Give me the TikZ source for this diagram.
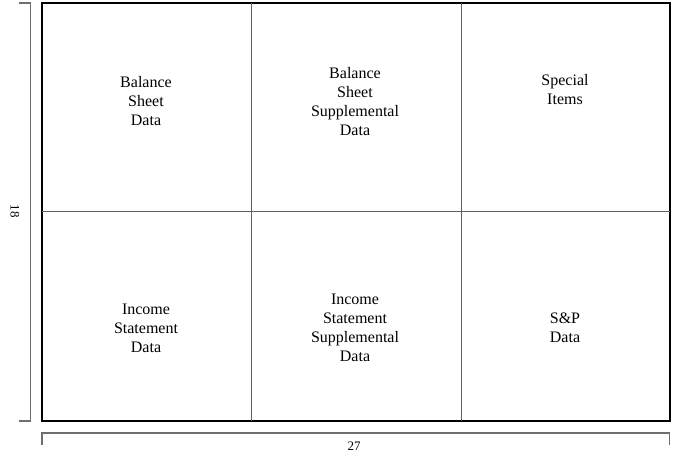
\documentclass[tikz,border=0pt]{standalone}
\usepackage{fontspec}
\setmainfont{Liberation Serif}
\definecolor{gridgray}{RGB}{95,95,95}
\definecolor{brgray}{RGB}{110,110,110}
\begin{document}
\begin{tikzpicture}[x=1pt,y=-1pt,
  outer/.style={draw=black,line width=1.1pt},
  grid/.style={draw=gridgray,line width=1pt},
  bracket/.style={draw=brgray,line width=1.4pt},
  cell/.style={align=center,inner sep=0pt,font=\fontsize{16}{19}\selectfont},
  dim/.style={inner sep=0pt,font=\fontsize{13}{15}\selectfont}]
\useasboundingbox (0,0) rectangle (681,459);
% outer frame
\coordinate (tl) at (42,3);
\coordinate (br) at (670,421);
\draw[outer] (tl) rectangle (br);
% grid lines
\coordinate (v1t) at (251,3); \coordinate (v1b) at (251,421);
\coordinate (v2t) at (461,3); \coordinate (v2b) at (461,421);
\coordinate (hl) at (42,211); \coordinate (hr) at (670,211);
\draw[grid] (v1t) -- (v1b);
\draw[grid] (v2t) -- (v2b);
\draw[grid] (hl) -- (hr);
% cell labels
\node[cell] (bsd) at (146,101) {Balance\\Sheet\\Data};
\node[cell] (bssd) at (355,102) {Balance\\Sheet\\Supplemental\\Data};
\node[cell] (si) at (565,90) {Special\\Items};
\node[cell] (isd) at (146,328) {Income\\Statement\\Data};
\node[cell] (issd) at (355,328) {Income\\Statement\\Supplemental\\Data};
\node[cell] (spd) at (565,327.5) {S\&P\\Data};
% left bracket
\coordinate (lb1) at (19,3); \coordinate (lb2) at (30.5,3);
\coordinate (lb3) at (30.5,421); \coordinate (lb4) at (19,421);
\draw[bracket] (lb1) -- (lb2) -- (lb3) -- (lb4);
\node[dim,rotate=-90] (h18) at (15,211) {18};
% bottom bracket
\coordinate (bb1) at (42,444.5); \coordinate (bb2) at (42,433);
\coordinate (bb3) at (669.5,433); \coordinate (bb4) at (669.5,444.5);
\draw[bracket] (bb1) -- (bb2) -- (bb3) -- (bb4);
\node[dim] (w27) at (354,446) {27};
\end{tikzpicture}
\end{document}
